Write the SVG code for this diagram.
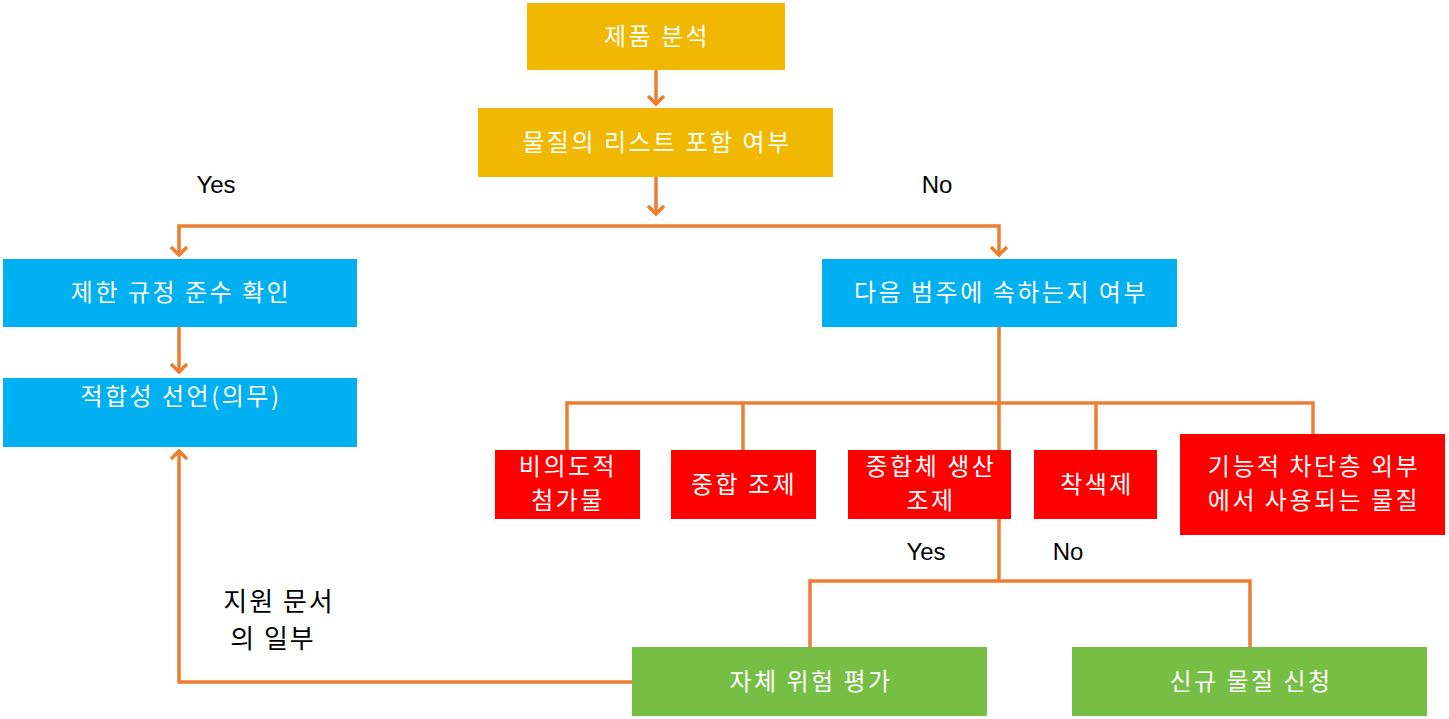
<svg xmlns="http://www.w3.org/2000/svg" width="1449" height="719" viewBox="0 0 1449 719">
<defs>
<style>
.y{fill:#F0B800}.b{fill:#00B0F0}.r{fill:#FF0000}.g{fill:#77BE44}
.t{fill:#fff;font-family:"Noto Sans CJK KR","Noto Sans",sans-serif;font-size:24px;letter-spacing:2.5px;text-anchor:middle}
.k{fill:#000;font-family:"Liberation Sans","Noto Sans CJK KR",sans-serif;font-size:24px;text-anchor:middle}
.m{fill:#000;font-family:"Noto Sans CJK KR",sans-serif;font-size:26px;letter-spacing:2px;text-anchor:middle}
.c{fill:none;stroke:#ED7D31;stroke-width:3.5}
</style>
</defs>
<rect width="1449" height="719" fill="#fff"/>
<g id="connectors">
<path class="c" d="M656,70 V104"/>
<path class="c" d="M648,96 L656,104 L664,96"/>
<path class="c" d="M656,177 V214"/>
<path class="c" d="M648,206 L656,214 L664,206"/>
<path class="c" d="M179,255 V226 H999 V255"/>
<path class="c" d="M171,247 L179,255 L187,247 M991,247 L999,255 L1007,247"/>
<path class="c" d="M179,327 V372"/>
<path class="c" d="M171,364 L179,372 L187,364"/>
<path class="c" d="M999,327 V450 M567,450 V403 H1313 V434 M743,403 V450 M1096,403 V450"/>
<path class="c" d="M999,519 V581 M810,647 V581 H1250 V647"/>
<path class="c" d="M632,682 H179 V451"/>
<path class="c" d="M171,459 L179,451 L187,459"/>
</g>
<g id="n1"><rect class="y" x="527" y="3" width="258" height="67"/><text class="t" x="657" y="45">제품 분석</text></g>
<g id="n2"><rect class="y" x="478" y="108" width="355" height="69"/><text class="t" x="657" y="151">물질의 리스트 포함 여부</text></g>
<g id="n3"><rect class="b" x="3" y="259" width="354" height="68"/><text class="t" x="181" y="301">제한 규정 준수 확인</text></g>
<g id="n4"><rect class="b" x="3" y="378" width="354" height="69"/><text class="t" x="181" y="405">적합성 선언(의무)</text></g>
<g id="n5"><rect class="b" x="822" y="259" width="355" height="68"/><text class="t" x="1001" y="301">다음 범주에 속하는지 여부</text></g>
<g id="n6"><rect class="r" x="495" y="450" width="145" height="69"/><text class="t" x="568" y="475">비의도적</text><text class="t" x="568" y="509">첨가물</text></g>
<g id="n7"><rect class="r" x="671" y="450" width="145" height="69"/><text class="t" x="744" y="493">중합 조제</text></g>
<g id="n8"><rect class="r" x="848" y="450" width="163" height="69"/><text class="t" x="931" y="475">중합체 생산</text><text class="t" x="931" y="509">조제</text></g>
<g id="n9"><rect class="r" x="1034" y="450" width="123" height="69"/><text class="t" x="1097" y="493">착색제</text></g>
<g id="n10"><rect class="r" x="1180" y="434" width="265" height="101"/><text class="t" x="1314" y="475">기능적 차단층 외부</text><text class="t" x="1314" y="509">에서 사용되는 물질</text></g>
<g id="n11"><rect class="g" x="632" y="647" width="355" height="69"/><text class="t" x="811" y="690">자체 위험 평가</text></g>
<g id="n12"><rect class="g" x="1072" y="647" width="355" height="69"/><text class="t" x="1251" y="690">신규 물질 신청</text></g>
<g id="labels">
<text class="k" x="216" y="193">Yes</text>
<text class="k" x="937" y="193">No</text>
<text class="k" x="926" y="560">Yes</text>
<text class="k" x="1068" y="560">No</text>
<text class="m" x="279" y="611">지원 문서</text>
<text class="m" x="273" y="648">의 일부</text>
</g>
</svg>
